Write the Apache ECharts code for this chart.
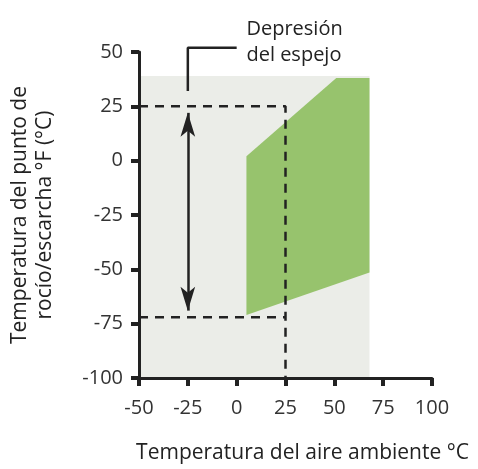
<!DOCTYPE html>
<html>
<head>
<meta charset="utf-8">
<script src="https://cdn.jsdelivr.net/npm/echarts@6/dist/echarts.min.js"></script>
<style>
  html, body { margin: 0; padding: 0; background: #fff; }
  #main { width: 478px; height: 469px; }
</style>
</head>
<body>
<div id="main"></div>
<script>
  // datos
  var xRange = [-50, 100];
  var yRange = [-100, 50];
  var tickStep = 25;
  // zona gris: rango de temperatura ambiente
  var ambientZone = [[-50, 39], [68, 39], [68, -100], [-50, -100]];
  // zona verde: punto de rocío alcanzable
  var operatingZone = [[5, 2], [51, 38], [68, 38], [68, -51.5], [5, -71]];
  // líneas discontinuas
  var upperDashed = [[-50, 25], [25, 25], [25, -100]];
  var lowerDashed = [[-50, -72], [25, -72]];
  // flecha de depresión
  var arrowPts = [[-25, 22], [-25, -69]];
  // línea de la etiqueta
  var leaderLine = [[-25, 32], [-25, 52], [0, 52]];
  var leaderText = ['Depresión', 'del espejo'];

  var font = '"Open Sans", sans-serif';
  var ink = '#222';

  var myChart = echarts.init(document.getElementById('main'));

  function polygonItem(points, color) {
    return function (params, api) {
      var pts = points.map(function (p) { return api.coord(p); });
      return {
        type: 'polygon',
        shape: { points: pts },
        style: { fill: color }
      };
    };
  }

  var option = {
    animation: false,
    grid: { left: 139, right: 46, top: 52, bottom: 91, outerBoundsMode: 'none' },
    xAxis: {
      type: 'value',
      min: xRange[0], max: xRange[1], interval: tickStep,
      z: 10,
      name: 'Temperatura del aire ambiente °C',
      nameLocation: 'middle',
      nameGap: 65,
      nameTextStyle: { fontFamily: font, fontSize: 21, color: ink, padding: [0, 0, 0, 34] },
      splitLine: { show: false },
      axisLine: { onZero: false, lineStyle: { color: ink, width: 3 } },
      axisTick: { length: 8, lineStyle: { color: ink, width: 4 } },
      axisLabel: { fontFamily: font, fontSize: 20, color: '#333', margin: 20 }
    },
    yAxis: {
      type: 'value',
      min: yRange[0], max: yRange[1], interval: tickStep,
      z: 10,
      name: 'Temperatura del punto de\nrocío/escarcha °F (°C)',
      nameLocation: 'middle',
      nameGap: 81,
      nameTextStyle: { fontFamily: font, fontSize: 21, color: ink, lineHeight: 25 },
      splitLine: { show: false },
      axisLine: { onZero: false, lineStyle: { color: ink, width: 3 } },
      axisTick: { length: 8, lineStyle: { color: ink, width: 4 } },
      axisLabel: { fontFamily: font, fontSize: 20, color: '#333', margin: 16 }
    },
    series: [
      {
        type: 'custom',
        renderItem: polygonItem(ambientZone, '#ebede8'),
        data: [0],
        z: 1
      },
      {
        type: 'custom',
        renderItem: polygonItem(operatingZone, '#97c36d'),
        data: [0],
        z: 2
      },
      {
        type: 'line',
        data: upperDashed,
        symbol: 'none',
        lineStyle: { color: ink, width: 2.5, type: [9, 7] },
        z: 3
      },
      {
        type: 'line',
        data: lowerDashed,
        symbol: 'none',
        lineStyle: { color: ink, width: 2.5, type: [9, 7] },
        z: 3
      },
      {
        type: 'line',
        data: leaderLine,
        symbol: 'none',
        clip: false,
        lineStyle: { color: ink, width: 2.5 },
        z: 3
      },
      {
        type: 'line',
        data: [],
        markLine: {
          silent: true,
          symbol: ['arrow', 'arrow'],
          symbolSize: [11, 24],
          label: { show: false },
          lineStyle: { color: ink, width: 2.5, type: 'solid' },
          data: [[{ coord: arrowPts[0] }, { coord: arrowPts[1] }]]
        },
        z: 4
      }
    ]
  };
  myChart.setOption(option);

  var anchor = myChart.convertToPixel({ gridIndex: 0 }, [5, 52]);
  myChart.setOption({
    graphic: [{
      type: 'text',
      left: anchor[0],
      top: anchor[1] - 31,
      style: {
        text: leaderText.join('\n'),
        font: '20px ' + font,
        fill: ink,
        lineHeight: 26
      }
    }]
  });
</script>
</body>
</html>
